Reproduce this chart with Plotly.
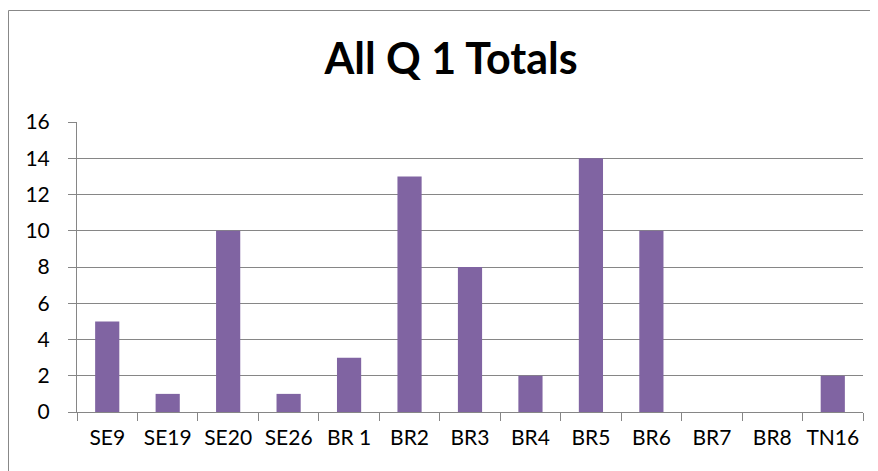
import plotly.graph_objects as go

categories = ["SE9", "SE19", "SE20", "SE26", "BR 1", "BR2", "BR3", "BR4", "BR5", "BR6", "BR7", "BR8", "TN16"]
values = [5, 1, 10, 1, 3, 13, 8, 2, 14, 10, 0, 0, 2]
y_ticks = [0, 2, 4, 6, 8, 10, 12, 14, 16]

# page body has an 8px margin, so the figure is drawn from (8, 8)
OFF = 8
W, H = 878 - OFF, 471 - OFF
L, R, T, B = 77 - OFF, 878 - 863, 122 - OFF, 471 - 412
pw = W - L - R
ph = H - T - B

def px2x(x):
    return (x - OFF - L) / pw

def px2y(y):
    return (H - B - (y - OFF)) / ph

fig = go.Figure(go.Bar(x=categories, y=values, marker=dict(color="#8064A2", line=dict(width=0))))

border = dict(color="#888888", width=1)

fig.update_layout(
    width=W, height=H,
    margin=dict(l=L, r=R, t=T, b=B, autoexpand=False),
    paper_bgcolor="white", plot_bgcolor="white",
    bargap=0.6,
    showlegend=False,
    font=dict(family="Lato, Carlito, Calibri, sans-serif", size=21, color="black"),
    title=dict(text="<b>All Q 1 Totals</b>", x=(451 - OFF) / W, xanchor="center", y=1 - (59 - OFF) / H,
               yanchor="middle", font=dict(size=43, color="black")),
    xaxis=dict(type="category", showline=True, linecolor="#868686", linewidth=1,
               ticks="outside", tickson="boundaries", ticklen=8, tickcolor="#868686",
               showgrid=False, tickfont=dict(size=21), tickangle=0, automargin=False,
               ticklabelstandoff=7),
    yaxis=dict(range=[0, 16], tickvals=y_ticks, showline=True, linecolor="#868686", linewidth=1,
               ticks="outside", ticklen=8, tickcolor="#868686",
               showgrid=True, gridcolor="#868686", gridwidth=1, zeroline=False,
               tickfont=dict(size=21), ticklabelstandoff=14, automargin=False),
    shapes=[
        dict(type="line", xref="paper", yref="paper",
             x0=px2x(8.5), x1=px2x(8.5), y0=px2y(10.5), y1=px2y(480), line=border),
        dict(type="line", xref="paper", yref="paper",
             x0=px2x(8.5), x1=px2x(878), y0=px2y(10.5), y1=px2y(10.5), line=border),
    ],
)

fig.write_html("out.html",
               post_script="document.documentElement.style.overflow='hidden';document.body.style.overflow='hidden';")
